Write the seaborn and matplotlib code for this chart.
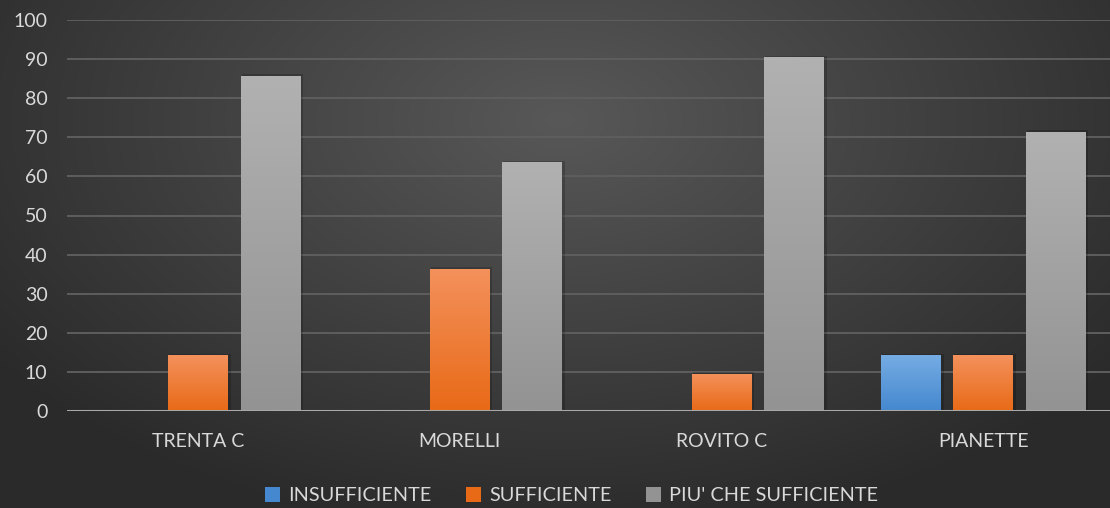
import numpy as np
import pandas as pd
import matplotlib
matplotlib.use("Agg")
import matplotlib.pyplot as plt
from matplotlib.patches import Patch
from matplotlib.colors import LinearSegmentedColormap
import seaborn as sns

# ---------- DATA ----------
categories = ["TRENTA C", "MORELLI", "ROVITO C", "PIANETTE"]
series_names = ["INSUFFICIENTE", "SUFFICIENTE", "PIU' CHE SUFFICIENTE"]
insufficiente = [0, 0, 0, 14.3]
sufficiente = [14.3, 36.4, 9.5, 14.3]
piu_che_sufficiente = [85.7, 63.6, 90.5, 71.4]
y_ticks = [0, 10, 20, 30, 40, 50, 60, 70, 80, 90, 100]

df = pd.DataFrame({
    "classe": categories * 3,
    "serie": [series_names[0]] * 4 + [series_names[1]] * 4 + [series_names[2]] * 4,
    "valore": insufficiente + sufficiente + piu_che_sufficiente,
})

# colours (top, bottom) for the bar gradients
grad = {
    series_names[0]: ("#75ace3", "#4588cf"),
    series_names[1]: ("#f4915c", "#e86a17"),
    series_names[2]: ("#b1b1b1", "#939393"),
}
flat = {k: v[1] for k, v in grad.items()}

sns.set_theme(style="dark")
plt.rcParams["font.family"] = ["Lato", "DejaVu Sans"]

fig = plt.figure(figsize=(11.1, 5.08), dpi=100)

# ---------- BACKGROUND (radial gradient) ----------
bg = fig.add_axes([0, 0, 1, 1], zorder=0)
yy, xx = np.mgrid[0:508, 0:1110]
r = np.sqrt(((xx - 560) / 700.0) ** 2 + ((yy - 120) / 420.0) ** 2)
r = np.clip(r, 0, 1)
light = 0.345 - (0.345 - 0.165) * r
bg.imshow(np.dstack([light, light, light]), aspect="auto", extent=[0, 1, 0, 1])
bg.axis("off")

ax = fig.add_axes([67 / 1110, (508 - 411) / 508, 1047 / 1110, 391 / 508], zorder=1)
ax.set_facecolor("none")

sns.barplot(data=df, x="classe", y="valore", hue="serie", hue_order=series_names,
            order=categories, palette=flat, width=0.83, gap=0.18, linewidth=0,
            edgecolor="none", legend=False, ax=ax, zorder=3)

# paint gradients on the bars
for patch in ax.patches:
    x0, y0 = patch.get_x(), patch.get_y()
    w, h = patch.get_width(), patch.get_height()
    if h <= 0:
        continue
    fc = patch.get_facecolor()
    key = min(flat, key=lambda k: np.sum(np.abs(np.array(matplotlib.colors.to_rgb(flat[k])) - np.array(fc[:3]))))
    cmap = LinearSegmentedColormap.from_list("g", [grad[key][1], grad[key][0]])
    # soft shadow
    ax.add_patch(plt.Rectangle((x0 + 0.004, y0), w + 0.008, h + 0.4, color="black",
                               alpha=0.18, zorder=2, linewidth=0))
    im = ax.imshow(np.linspace(0, 1, 100).reshape(-1, 1), cmap=cmap, aspect="auto",
                   extent=[x0, x0 + w, y0, y0 + h], origin="lower", zorder=4)
    im.set_clip_path(patch)

ax.set_xlim(-0.5, 3.5)
ax.set_ylim(0, 100)
ax.set_yticks(y_ticks)
ax.set_xlabel("")
ax.set_ylabel("")

ax.grid(axis="y", color="#5e5e5e", linewidth=1.4, zorder=1)
ax.grid(axis="x", visible=False)
ax.axhline(0, color="#a9a9a9", linewidth=2.2, zorder=5)
for s in ax.spines.values():
    s.set_visible(False)

ax.tick_params(axis="y", colors="#d9d9d9", labelsize=14, length=0, pad=14)
ax.tick_params(axis="x", colors="#d9d9d9", labelsize=14, length=0, pad=16)
for lab in ax.get_yticklabels() + ax.get_xticklabels():
    lab.set_color("#d9d9d9")

# ---------- LEGEND ----------
handles = [Patch(facecolor=grad[n][1], edgecolor="none") for n in series_names]
leg = fig.legend(handles, series_names, loc="lower center", bbox_to_anchor=(0.515, -0.028),
                 ncol=3, frameon=False, fontsize=14.3, handlelength=0.75, handleheight=0.75,
                 handletextpad=0.4, columnspacing=1.75)
for t in leg.get_texts():
    t.set_color("#d9d9d9")

fig.savefig("out.png", dpi=100)
